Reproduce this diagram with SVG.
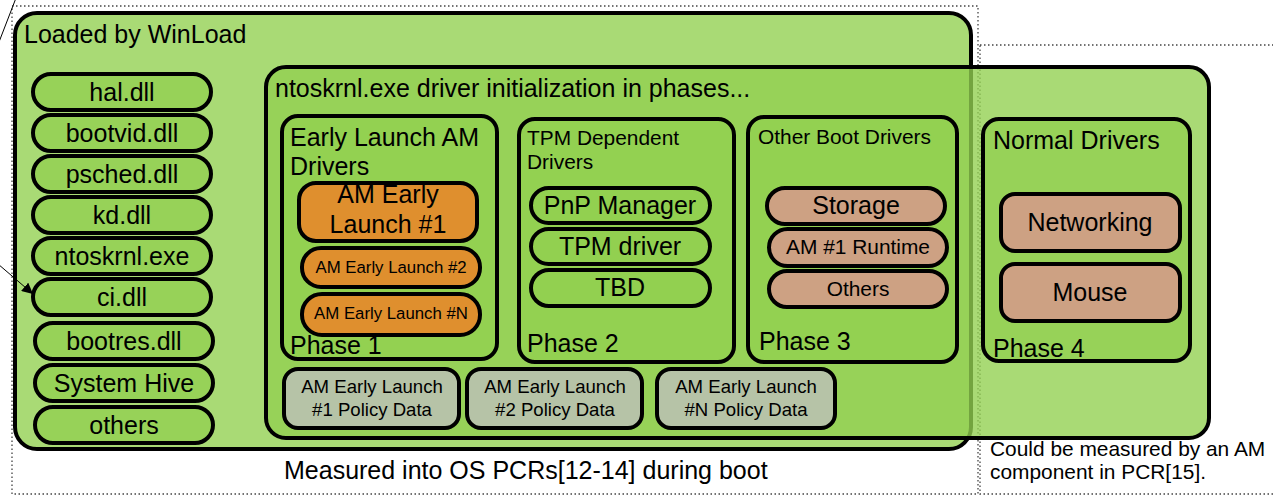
<svg xmlns="http://www.w3.org/2000/svg" width="1273" height="498" viewBox="0 0 1273 498">
<style>
text{font-family:"Liberation Sans",Arial,sans-serif;fill:#000}
.big{font-size:25px}
.med{font-size:20.9px}
.sm{font-size:16.8px}
.pol{font-size:18.6px}
.c{text-anchor:middle}
.dot{fill:none;stroke:#444;stroke-width:1.3;stroke-dasharray:1.5 2.5}
.grn{fill:#92D050;fill-opacity:0.79;stroke:#000;stroke-width:4}
.org{fill:#DF8F2E;stroke:#000;stroke-width:4}
.tan{fill:#CDA183;stroke:#000;stroke-width:4}
.gry{fill:#B6C3A7;stroke:#000;stroke-width:4}
.con{fill:none;stroke:#000;stroke-width:1}
</style>
<defs>
<marker id="ah" viewBox="0 0 10 10" refX="10" refY="5" markerWidth="11" markerHeight="11" markerUnits="userSpaceOnUse" orient="auto">
<path d="M0,0 L10,5 L0,10 Z" fill="#000"/>
</marker>
</defs>
<g id="zone-os">
<rect class="dot" x="12" y="6" width="966" height="488"/>
<text class="big" x="284" y="479">Measured into OS PCRs[12-14] during boot</text>
</g>
<g id="zone-am">
<rect class="dot" x="980" y="45" width="400" height="449"/>
<text class="med" x="990" y="456">Could be measured by an AM</text>
<text class="med" x="990" y="479">component in PCR[15].</text>
</g>
<g id="winload">
<rect class="grn" x="15" y="13" width="956" height="436" rx="22"/>
<text class="big" x="24" y="43">Loaded by WinLoad</text>
</g>
<g id="hal"><rect class="grn" x="33" y="74" width="178" height="36" rx="18"/><text class="big c" x="122" y="100.5">hal.dll</text></g>
<g id="bootvid"><rect class="grn" x="33" y="115" width="178" height="36" rx="18"/><text class="big c" x="122" y="141.5">bootvid.dll</text></g>
<g id="psched"><rect class="grn" x="33" y="156" width="178" height="36" rx="18"/><text class="big c" x="122" y="182.5">psched.dll</text></g>
<g id="kd"><rect class="grn" x="33" y="197" width="178" height="36" rx="18"/><text class="big c" x="122" y="223.5">kd.dll</text></g>
<g id="ntoskrnl-exe"><rect class="grn" x="33" y="238" width="178" height="36" rx="18"/><text class="big c" x="122" y="264.5">ntoskrnl.exe</text></g>
<g id="ci"><rect class="grn" x="33" y="279" width="178" height="36" rx="18"/><text class="big c" x="122" y="305.5">ci.dll</text></g>
<g id="bootres"><rect class="grn" x="35" y="323" width="178" height="36" rx="18"/><text class="big c" x="124" y="349.5">bootres.dll</text></g>
<g id="systemhive"><rect class="grn" x="35" y="365" width="178" height="36" rx="18"/><text class="big c" x="124" y="391.5">System Hive</text></g>
<g id="others-left"><rect class="grn" x="35" y="407" width="178" height="36" rx="18"/><text class="big c" x="124" y="433.5">others</text></g>
<g id="ntoskrnl-init">
<rect class="grn" x="266" y="67" width="943" height="371" rx="20"/>
<text class="big" x="275" y="97">ntoskrnl.exe driver initialization in phases...</text>
</g>
<g id="phase1">
<rect class="grn" x="282" y="116" width="215" height="243" rx="16"/>
<text class="big" x="290" y="146">Early Launch AM</text>
<text class="big" x="290" y="175">Drivers</text>
<text class="big" x="290" y="354">Phase 1</text>
</g>
<g id="am1"><rect class="org" x="299" y="183" width="178" height="58" rx="17"/><text class="big c" x="388" y="203">AM Early</text><text class="big c" x="388" y="233">Launch #1</text></g>
<g id="am2"><rect class="org" x="302" y="248" width="178" height="39" rx="19"/><text class="sm c" x="391" y="273">AM Early Launch #2</text></g>
<g id="amn"><rect class="org" x="302" y="294" width="178" height="41" rx="20"/><text class="sm c" x="391" y="319">AM Early Launch #N</text></g>
<g id="phase2">
<rect class="grn" x="519" y="119" width="215" height="243" rx="16"/>
<text class="med" x="527" y="145">TPM Dependent</text>
<text class="med" x="527" y="169">Drivers</text>
<text class="big" x="527" y="352">Phase 2</text>
</g>
<g id="pnp"><rect class="grn" x="531" y="188" width="179" height="35" rx="17.5"/><text class="big c" x="620" y="213.5">PnP Manager</text></g>
<g id="tpm"><rect class="grn" x="531" y="229" width="179" height="35" rx="17.5"/><text class="big c" x="620" y="254.5">TPM driver</text></g>
<g id="tbd"><rect class="grn" x="531" y="270" width="179" height="36" rx="18"/><text class="big c" x="620" y="296">TBD</text></g>
<g id="phase3">
<rect class="grn" x="748" y="117" width="209" height="245" rx="16"/>
<text class="med" x="758" y="144">Other Boot Drivers</text>
<text class="big" x="759" y="350">Phase 3</text>
</g>
<g id="storage"><rect class="tan" x="767" y="188" width="178" height="36" rx="18"/><text class="big c" x="856" y="214">Storage</text></g>
<g id="runtime"><rect class="tan" x="769" y="229" width="178" height="37" rx="18.5"/><text class="med c" x="858" y="254">AM #1 Runtime</text></g>
<g id="others-p3"><rect class="tan" x="769" y="271" width="178" height="36" rx="18"/><text class="med c" x="858" y="296">Others</text></g>
<g id="phase4">
<rect class="grn" x="983" y="119" width="207" height="242" rx="16"/>
<text class="big" x="993" y="149">Normal Drivers</text>
<text class="big" x="993" y="357">Phase 4</text>
</g>
<g id="networking"><rect class="tan" x="1001" y="194" width="179" height="57" rx="14"/><text class="big c" x="1090" y="231">Networking</text></g>
<g id="mouse"><rect class="tan" x="1001" y="264" width="179" height="57" rx="14"/><text class="big c" x="1090" y="301">Mouse</text></g>
<g id="policy1"><rect class="gry" x="284" y="369" width="175" height="59" rx="14"/><text class="pol c" x="372" y="393">AM Early Launch</text><text class="pol c" x="372" y="416">#1 Policy Data</text></g>
<g id="policy2"><rect class="gry" x="467" y="369" width="175" height="59" rx="14"/><text class="pol c" x="555" y="393">AM Early Launch</text><text class="pol c" x="555" y="416">#2 Policy Data</text></g>
<g id="policyn"><rect class="gry" x="657" y="369" width="178" height="59" rx="14"/><text class="pol c" x="746" y="393">AM Early Launch</text><text class="pol c" x="746" y="416">#N Policy Data</text></g>
<g id="connectors">
<line class="con" x1="16" y1="-2" x2="-1" y2="42"/>
<line class="con" x1="-2" y1="264" x2="33" y2="294" marker-end="url(#ah)"/>
</g>
</svg>
